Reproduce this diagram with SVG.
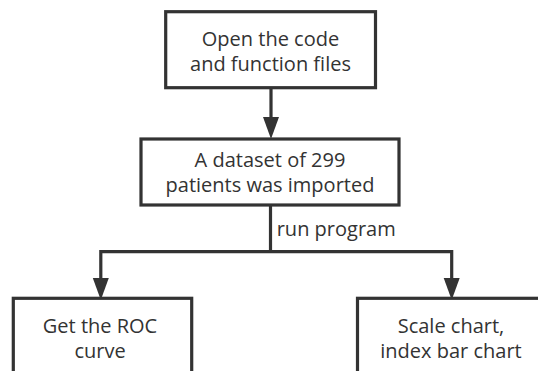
<svg xmlns="http://www.w3.org/2000/svg" width="538" height="371" viewBox="0 0 538 371">
<style>
.box{fill:#fff;stroke:#333;stroke-width:3.2}
.ln{fill:none;stroke:#333;stroke-width:3.2}
.ah{fill:#333;stroke:none}
text{font-family:"Open Sans","Noto Sans","Liberation Sans",sans-serif;font-size:20px;fill:#333;text-anchor:middle}
.lbl{text-anchor:start}
</style>
<rect width="538" height="371" fill="#fff"/>
<g id="connectors">
<line class="ln" x1="271" y1="87.5" x2="271" y2="118"/>
<polygon class="ah" points="263,117 279,117 271,139"/>
<polyline class="ln" points="270.5,205 270.5,251.7"/>
<polyline class="ln" points="100.8,279 100.8,251.7 451.7,251.7 451.7,279"/>
<polygon class="ah" points="92.8,278 108.8,278 100.8,300"/>
<polygon class="ah" points="443.7,278 459.7,278 451.7,300"/>
<text class="lbl" x="276.7" y="235.5">run program</text>
</g>
<g id="node-open">
<rect class="box" x="165.7" y="11.7" width="209.8" height="76"/>
<text x="270.5" y="46">Open the code<tspan x="270.5" dy="25">and function files</tspan></text>
</g>
<g id="node-dataset">
<rect class="box" x="141" y="139" width="258" height="66"/>
<text x="270" y="167.3">A dataset of 299<tspan x="270" dy="25">patients was imported</tspan></text>
</g>
<g id="node-roc">
<rect class="box" x="13.3" y="298.3" width="178.4" height="100"/>
<text x="100" y="333">Get the ROC<tspan x="100" dy="25">curve</tspan></text>
</g>
<g id="node-scale">
<rect class="box" x="357.5" y="298.3" width="190" height="100"/>
<text x="451" y="333">Scale chart,<tspan x="451" dy="25">index bar chart</tspan></text>
</g>
</svg>
